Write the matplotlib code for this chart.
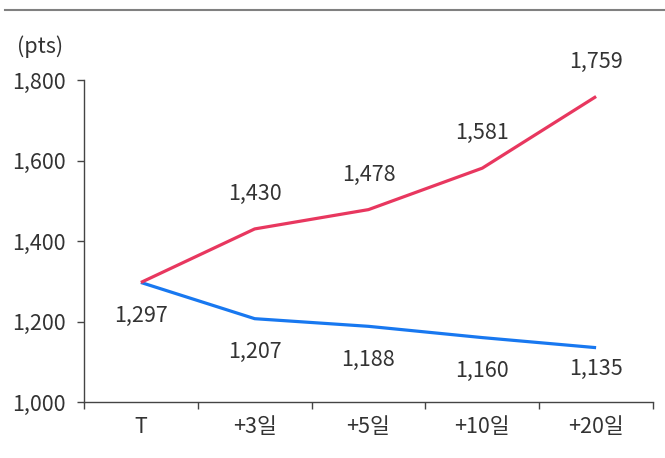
import matplotlib
matplotlib.use('Agg')
import matplotlib.pyplot as plt
from matplotlib.lines import Line2D
import numpy as np

plt.rcParams['font.family'] = ['Noto Sans CJK KR', 'DejaVu Sans']

# data
categories = ['T', '+3일', '+5일', '+10일', '+20일']
up_vals = [1297, 1430, 1478, 1581, 1759]
down_vals = [1297, 1207, 1188, 1160, 1135]

red = '#E8375F'
blue = '#1878F0'
txt = '#333333'
fs = 15.5

fig = plt.figure(figsize=(6.65, 4.58), dpi=100)
ax = fig.add_axes([84/665, 56/458, (653-84)/665, (402-80)/458])

x = np.arange(len(categories))
ax.plot(x, up_vals, color=red, lw=2.3, solid_capstyle='butt', zorder=3)
ax.plot(x, down_vals, color=blue, lw=2.3, solid_capstyle='butt', zorder=2)

# value labels
for i, v in enumerate(up_vals):
    if i == 0:
        continue
    ax.annotate(f'{v:,}', (i, v), xytext=(0, 25), textcoords='offset points',
                ha='center', va='center', fontsize=fs, color=txt, fontweight='light')
for i, v in enumerate(down_vals):
    dy = -15 if i == len(down_vals) - 1 else -24
    ax.annotate(f'{v:,}', (i, v), xytext=(0, dy), textcoords='offset points',
                ha='center', va='center', fontsize=fs, color=txt, fontweight='light')

ax.set_xlim(-0.5, len(categories) - 0.5)
ax.set_ylim(1000, 1800)
ax.set_yticks([1000, 1200, 1400, 1600, 1800])
ax.set_yticklabels([f'{t:,}' for t in [1000, 1200, 1400, 1600, 1800]])
ax.set_xticks(x)
ax.set_xticklabels(categories)
ax.set_xticks(np.arange(len(categories) + 1) - 0.5, minor=True)
ax.tick_params(axis='x', which='major', length=0, pad=10, labelsize=fs, labelcolor=txt)
ax.tick_params(axis='x', which='minor', length=5, width=1, color='#444444', direction='out')
ax.tick_params(axis='y', length=5, width=1, color='#444444', pad=8, labelsize=fs, labelcolor=txt)
for lab in ax.get_xticklabels() + ax.get_yticklabels():
    lab.set_fontweight('light')

for s in ['top', 'right']:
    ax.spines[s].set_visible(False)
for s in ['left', 'bottom']:
    ax.spines[s].set_color('#444444')
    ax.spines[s].set_linewidth(1)

fig.text(40/665, 1 - 47/458, '(pts)', ha='center', va='center', fontsize=fs,
         color=txt, fontweight='light')

# top rule
fig.add_artist(Line2D([5/665, 1], [1 - 10/458, 1 - 10/458], color='#808080', lw=1.5))

fig.savefig('out.png', dpi=100)
